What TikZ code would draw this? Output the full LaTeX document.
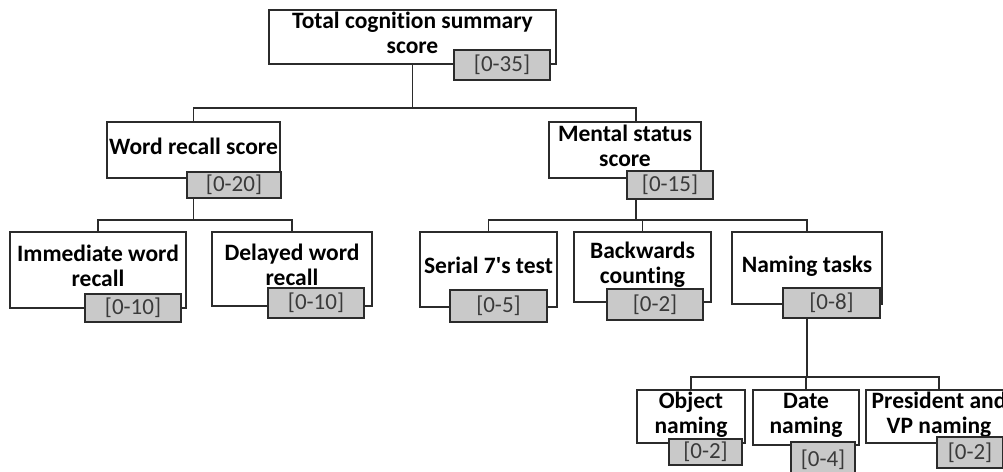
\documentclass[tikz,border=0pt]{standalone}
\usepackage{fontspec}
\setmainfont{Carlito}[Ligatures=NoCommon]
\usetikzlibrary{backgrounds}
\definecolor{linegray}{HTML}{2B2B2B}
\definecolor{scoregray}{HTML}{C9C9C9}
\definecolor{scoretext}{HTML}{3A3A3A}

\begin{document}
\begin{tikzpicture}[
  x=1pt,
  y=-1pt,
  box/.style={draw=linegray,line width=1.3pt,fill=white,text=black,align=center,inner sep=0pt,
    text depth=8pt,font=\fontsize{23.5}{25}\selectfont\bfseries},
  scorebox/.style={draw=linegray,line width=1.6pt,fill=scoregray,text=scoretext,inner sep=0pt,
    font=\fontsize{23}{25}\selectfont},
  conn/.style={draw=linegray,line width=1.4pt}
]
  % Match the original artwork frame.
  \useasboundingbox (0,0) rectangle (1003,471);

  % Top level: total score.
  \node[box,minimum width=287pt,minimum height=54pt] (total) at (412.5,37) {Total cognition summary\\score};
  \node[scorebox,minimum width=96pt,minimum height=30pt] (totalScore) at (502,65) {[0-35]};

  % Second level: word recall and mental status.
  \node[box,minimum width=173pt,minimum height=56pt] (word) at (193.5,150) {Word recall score};
  \node[scorebox,minimum width=94pt,minimum height=26pt] (wordScore) at (234,185) {[0-20]};
  \node[box,minimum width=152pt,minimum height=56pt] (mental) at (625,150) {Mental status\\score};
  \node[scorebox,minimum width=86pt,minimum height=28pt] (mentalScore) at (670,185) {[0-15]};

  % Third level: word recall items.
  \node[box,minimum width=176pt,minimum height=76pt] (immediate) at (98,270) {Immediate word\\recall};
  \node[scorebox,minimum width=96pt,minimum height=28pt] (immediateScore) at (133,308) {[0-10]};
  \node[box,minimum width=160pt,minimum height=74pt] (delayed) at (292,269) {Delayed word\\recall};
  \node[scorebox,minimum width=96pt,minimum height=30pt] (delayedScore) at (316,303) {[0-10]};

  % Third level: mental status items.
  \node[box,minimum width=137pt,minimum height=75pt] (serial) at (488.5,269.5) {Serial 7\textquotesingle s test};
  \node[scorebox,minimum width=97pt,minimum height=32pt] (serialScore) at (498.5,306) {[0-5]};
  \node[box,minimum width=137pt,minimum height=70pt] (backwards) at (642.5,267) {Backwards\\counting};
  \node[scorebox,minimum width=96pt,minimum height=31pt] (backwardsScore) at (655,304.5) {[0-2]};
  \node[box,minimum width=150pt,minimum height=72pt] (naming) at (807,268) {Naming tasks};
  \node[scorebox,minimum width=97pt,minimum height=30pt] (namingScore) at (831.5,303) {[0-8]};

  % Fourth level: naming tasks.
  \node[box,minimum width=108pt,minimum height=53pt] (object) at (691,416.5) {Object\\naming};
  \node[scorebox,minimum width=73pt,minimum height=26pt] (objectScore) at (705.5,452) {[0-2]};
  \node[box,minimum width=106pt,minimum height=55pt] (date) at (806,417.5) {Date\\naming};
  \node[scorebox,minimum width=64pt,minimum height=36pt] (dateScore) at (823,460) {[0-4]};
  \node[box,minimum width=146pt,minimum height=53pt] (president) at (939,416.5) {President and\\VP naming};
  \node[scorebox,minimum width=66pt,minimum height=31pt] (presidentScore) at (970,452.5) {[0-2]};

  % Bus heights and tap points.
  \coordinate (busTop) at (0,108);
  \coordinate (busSecond) at (0,220);
  \coordinate (busNaming) at (0,377);
  \coordinate (mentalTop) at ([xshift=11pt]mental.north);
  \coordinate (mentalTap) at ([xshift=11pt]mental.south);

  % Tree connectors behind the boxes.
  \begin{scope}[on background layer]
    \draw[conn] (total.south) -- (total.south |- busTop) -| (word.north);
    \draw[conn] (total.south |- busTop) -| (mentalTop);
    \draw[conn] (word.south) -- (word.south |- busSecond) -| (immediate.north);
    \draw[conn] (word.south |- busSecond) -| (delayed.north);
    \draw[conn] (mentalTap) -- (mentalTap |- busSecond) -| (serial.north);
    \draw[conn] (mentalTap |- busSecond) -| (backwards.north);
    \draw[conn] (mentalTap |- busSecond) -| (naming.north);
    \draw[conn,line width=2.4pt] (naming.south) -- (naming.south |- busNaming);
    \draw[conn] (naming.south |- busNaming) -| (object.north);
    \draw[conn] (naming.south |- busNaming) -| (date.north);
    \draw[conn] (naming.south |- busNaming) -| (president.north);
  \end{scope}
\end{tikzpicture}
\end{document}
